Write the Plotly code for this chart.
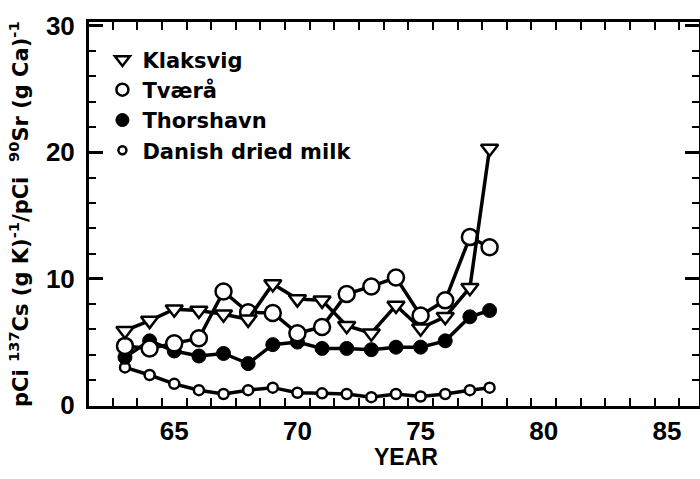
import plotly.graph_objects as go

# years of sampling (the last samples sit a bit before 78 on the axis)
years = [63, 64, 65, 66, 67, 68, 69, 70, 71, 72, 73, 74, 75, 76, 77, 77.8]

klaksvig = [5.9, 6.7, 7.6, 7.5, 7.2, 6.8, 9.6, 8.4, 8.3, 6.3, 5.7, 7.9, 6.1, 7.0, 9.3, 20.3]
tvaera = [4.7, 4.5, 4.9, 5.3, 9.0, 7.35, 7.3, 5.7, 6.2, 8.8, 9.4, 10.1, 7.1, 8.3, 13.3, 12.5]
thorshavn = [3.8, 5.1, 4.3, 3.9, 4.1, 3.3, 4.8, 5.0, 4.5, 4.5, 4.4, 4.6, 4.6, 5.1, 7.0, 7.5]
danish = [3.0, 2.4, 1.7, 1.2, 0.9, 1.2, 1.4, 1.0, 0.95, 0.9, 0.65, 0.9, 0.7, 0.9, 1.2, 1.4]

names = ["Klaksvig", "Tværå", "Thorshavn", "Danish dried milk"]
x_labels = [65, 70, 75, 80, 85]

LABEL_FONT = "Liberation Sans"
TEXT_FONT = "DejaVu Sans, Liberation Sans"

styles = {
    "Klaksvig": dict(symbol="triangle-down", size=15, color="white", line=dict(color="black", width=2.5)),
    "Tværå": dict(symbol="circle", size=16, color="white", line=dict(color="black", width=2.5)),
    "Thorshavn": dict(symbol="circle", size=14, color="black", line=dict(color="black", width=1)),
    "Danish dried milk": dict(symbol="circle", size=10, color="white", line=dict(color="black", width=2.5)),
}
legend_sizes = {"Klaksvig": 13, "Tværå": 12, "Thorshavn": 13, "Danish dried milk": 8}

series = {"Klaksvig": klaksvig, "Tværå": tvaera, "Thorshavn": thorshavn, "Danish dried milk": danish}

fig = go.Figure()

# lines drawn back to front, legend added separately with marker-only entries
for name in ["Danish dried milk", "Thorshavn", "Tværå", "Klaksvig"]:
    fig.add_trace(go.Scatter(
        x=years, y=series[name], mode="lines+markers",
        line=dict(color="black", width=3.5),
        marker=styles[name], showlegend=False, name=name,
    ))

for i, name in enumerate(names):
    fig.add_trace(go.Scatter(
        x=[None], y=[None], mode="markers",
        marker=dict(styles[name], size=legend_sizes[name]),
        name=name, legendgroup=str(i),
    ))

fig.update_layout(
    width=700, height=479,
    margin=dict(l=89, r=1, t=22, b=73),
    paper_bgcolor="white", plot_bgcolor="white",
    showlegend=True,
    legend=dict(
        x=0.022, y=0.955, xanchor="left", yanchor="top",
        font=dict(family=TEXT_FONT, size=21, color="black", weight="bold"),
        traceorder="grouped", tracegroupgap=0, bgcolor="rgba(0,0,0,0)",
        itemwidth=30,
    ),
)

fig.update_xaxes(
    range=[61.54, 86.3],
    tickvals=x_labels, ticktext=[str(v) for v in x_labels],
    ticks="inside", ticklen=0,
    minor=dict(tick0=62.5, dtick=1, ticks="inside", ticklen=8, tickwidth=2, tickcolor="black"),
    showline=True, linecolor="black", linewidth=3, mirror="ticks",
    showgrid=False, zeroline=False, automargin=False,
    tickfont=dict(family=LABEL_FONT, size=26, color="black", weight="bold"),
    ticklabelstandoff=0,
)

fig.update_yaxes(
    range=[-0.05, 30.3],
    tick0=0, dtick=10,
    ticks="inside", ticklen=14, tickwidth=3, tickcolor="black",
    minor=dict(tick0=0, dtick=2, ticks="inside", ticklen=7, tickwidth=2, tickcolor="black"),
    showline=True, linecolor="black", linewidth=3, mirror="ticks",
    showgrid=False, zeroline=False, automargin=False,
    tickfont=dict(family=LABEL_FONT, size=26, color="black", weight="bold"),
    ticklabelstandoff=6,
)

fig.add_annotation(
    text="YEAR", xref="paper", yref="paper", x=0.52, y=0, yshift=-51,
    xanchor="center", yanchor="middle", showarrow=False,
    font=dict(family="Liberation Sans", size=23, color="black", weight="bold"),
)

fig.add_annotation(
    text="pCi <sup>137</sup>Cs (g K)<sup>-1</sup>/pCi  <sup>90</sup>Sr (g Ca)<sup>-1</sup>",
    xref="paper", yref="paper", x=0, y=0.5, xshift=-70,
    xanchor="center", yanchor="middle", textangle=-90, showarrow=False,
    font=dict(family=TEXT_FONT, size=21, color="black", weight="bold"),
)

# drop the page's default body margin so the 700x479 figure fills the window
fig.write_html(
    "out.html",
    config={"displayModeBar": False},
    post_script="document.body.style.margin='0';document.body.style.overflow='hidden';",
)
